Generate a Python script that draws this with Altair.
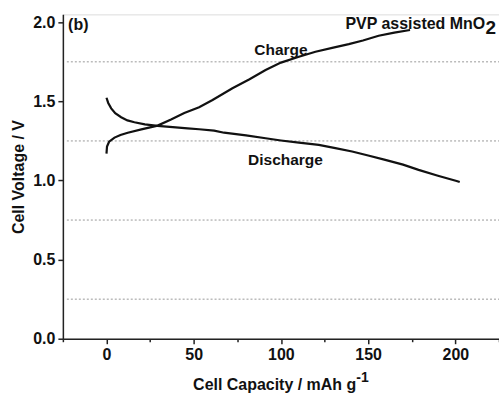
import altair as alt
import pandas as pd

# Charge curve (capacity mAh/g, voltage V)
charge_cap = [0, 0.3, 1.5, 4.6, 8, 12.2, 20, 29.3, 37, 44.6, 53.1, 60.8, 72.2, 82, 91.2,
              100, 110.3, 119.8, 130, 138.9, 147, 156, 165, 174]
charge_v = [1.17, 1.215, 1.245, 1.271, 1.288, 1.302, 1.323, 1.347, 1.385, 1.426, 1.463, 1.509,
            1.583, 1.64, 1.698, 1.745, 1.782, 1.814, 1.84, 1.862, 1.885, 1.915, 1.935, 1.951]

# Discharge curve
discharge_cap = [0, 1, 2.7, 5, 8.4, 12, 16, 22, 29.3, 38, 46.5, 53.1, 61.7, 67.4, 80, 91.2,
                 100, 110.3, 121.7, 131.2, 140.8, 150, 159.8, 170, 178.9, 190, 200.7, 202.5]
discharge_v = [1.523, 1.49, 1.456, 1.425, 1.40, 1.38, 1.368, 1.355, 1.345, 1.337, 1.330, 1.324,
               1.315, 1.302, 1.285, 1.267, 1.253, 1.239, 1.225, 1.205, 1.183, 1.158, 1.13, 1.10,
               1.067, 1.03, 0.997, 0.99]

grid_vals = [0.25, 0.75, 1.25, 1.75]
x_ticks = [-25, 0, 25, 50, 75, 100, 125, 150, 175, 200, 225]
y_ticks = [0.0, 0.5, 1.0, 1.5, 2.0]

ann_text = ["Charge", "Discharge"]
ann_x = [100, 102.6]
ann_y = [1.825, 1.13]

rows = []
for i, (c, v) in enumerate(zip(charge_cap, charge_v)):
    rows.append({"series": "Charge", "cap": c, "v": v, "idx": i})
for i, (c, v) in enumerate(zip(discharge_cap, discharge_v)):
    rows.append({"series": "Discharge", "cap": c, "v": v, "idx": i})
df = pd.DataFrame(rows)

FONT = "Liberation Sans"
INK = "#111111"
xscale = alt.Scale(domain=[-25, 225], nice=False, zero=False)
yscale = alt.Scale(domain=[0, 2.05], nice=False, zero=False)

grid = alt.Chart(pd.DataFrame({"g": grid_vals})).mark_rule(
    color="#999999", strokeDash=[2, 2], strokeWidth=1
).encode(
    y=alt.Y("g:Q", scale=yscale),
    x=alt.value(4), x2=alt.value(437)
)

lines = alt.Chart(df).mark_line(color=INK, strokeWidth=2.2).encode(
    x=alt.X("cap:Q", scale=xscale,
            axis=alt.Axis(values=x_ticks,
                          labelExpr="datum.value % 50 === 0 ? datum.label : ''",
                          tickSize={"condition": {"test": "datum.value % 50 === 0", "value": 5}, "value": 3},
                          title="Cell Capacity / mAh g",
                          titleAnchor="start", titleAlign="left", titleX=130, titleY=51,
                          titleBaseline="alphabetic",
                          grid=False, domainColor="#222222", domainWidth=1.5,
                          tickColor="#222222", tickWidth=1.5,
                          labelFont=FONT, labelFontSize=16, labelFontWeight="bold",
                          labelColor=INK, labelPadding=3,
                          titleFont=FONT, titleFontSize=16, titleFontWeight="bold",
                          titleColor=INK)),
    y=alt.Y("v:Q", scale=yscale,
            axis=alt.Axis(values=y_ticks, format=".1f", tickSize=5,
                          title="Cell Voltage / V",
                          grid=False, domainColor="#222222", domainWidth=1.5,
                          tickColor="#222222", tickWidth=1.5,
                          labelFont=FONT, labelFontSize=16, labelFontWeight="bold",
                          labelColor=INK, labelPadding=3,
                          titleFont=FONT, titleFontSize=16, titleFontWeight="bold",
                          titleColor=INK, titlePadding=6)),
    detail="series:N",
    order="idx:Q",
)

ann_b = alt.Chart(pd.DataFrame({"t": ["(b)"], "x": [-22], "y": [1.98]})).mark_text(
    font=FONT, fontSize=16, fontWeight="bold", color=INK, align="left", baseline="middle"
).encode(x=alt.X("x:Q", scale=xscale), y=alt.Y("y:Q", scale=yscale), text="t:N")

ann_c = alt.Chart(pd.DataFrame({"t": ann_text, "x": ann_x, "y": ann_y})).mark_text(
    font=FONT, fontSize=15.5, fontWeight="bold", color=INK, align="center", baseline="middle"
).encode(x=alt.X("x:Q", scale=xscale), y=alt.Y("y:Q", scale=yscale), text="t:N")

pvp = alt.Chart(pd.DataFrame({"t": ["PVP assisted MnO"], "x": [217.1], "y": [1.957]})).mark_text(
    font=FONT, fontSize=16, fontWeight="bold", color=INK, align="right", baseline="alphabetic"
).encode(x=alt.X("x:Q", scale=xscale), y=alt.Y("y:Q", scale=yscale), text="t:N")

sub2 = alt.Chart(pd.DataFrame({"t": ["2"], "x": [217.3], "y": [1.925]})).mark_text(
    font=FONT, fontSize=19, fontWeight="bold", color=INK, align="left", baseline="alphabetic"
).encode(x=alt.X("x:Q", scale=xscale), y=alt.Y("y:Q", scale=yscale), text="t:N")

sup = alt.Chart(pd.DataFrame({"t": ["-1"]})).mark_text(
    font=FONT, fontSize=14, fontWeight="bold", color=INK, align="left", baseline="alphabetic"
).encode(x=alt.value(294), y=alt.value(368), text="t:N")

chart = alt.layer(grid, lines, ann_b, ann_c, pvp, sub2, sup).properties(
    width=437, height=325,
    autosize=alt.AutoSizeParams(type="none"),
    padding={"left": 63, "top": 14, "right": 0, "bottom": 55},
).configure_view(stroke="#222222", strokeWidth=1.5).configure_text(limit=0)

chart = chart.configure(background="white")
chart.save("out.html", embed_options={"renderer": "svg", "actions": False})
